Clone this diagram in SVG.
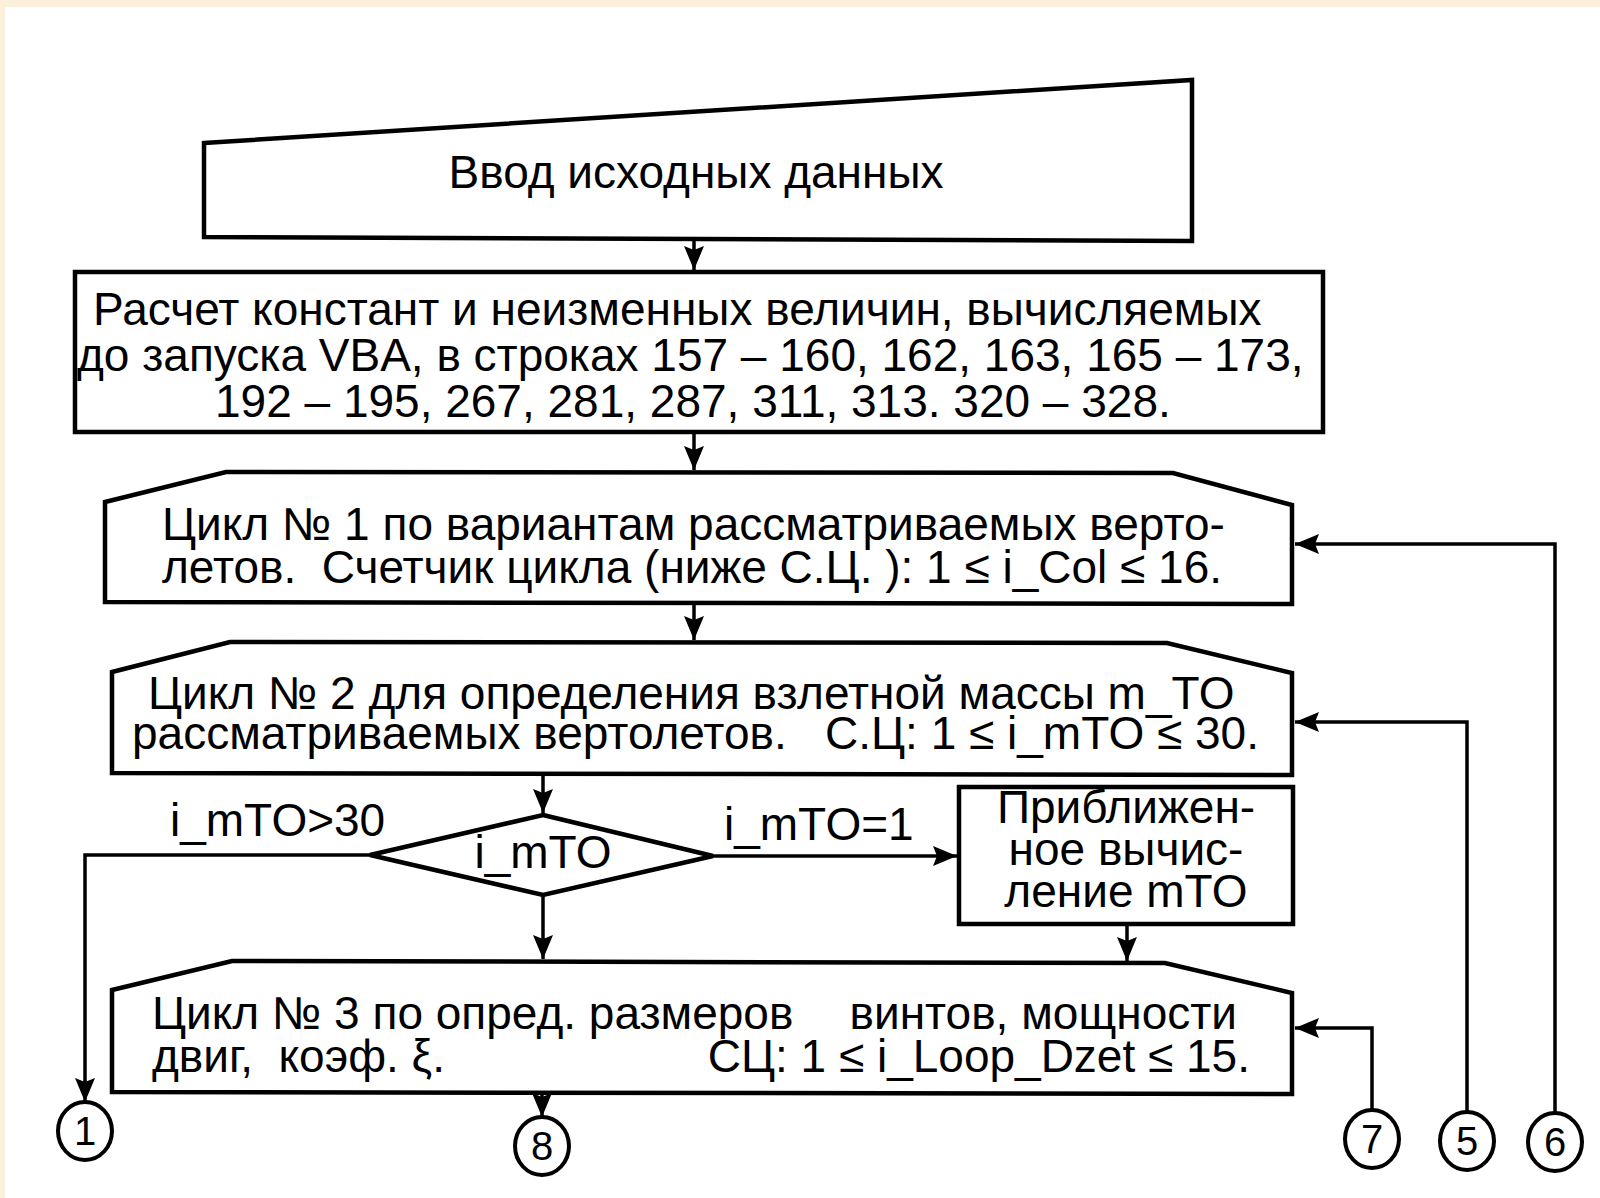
<svg xmlns="http://www.w3.org/2000/svg" width="1600" height="1198" viewBox="0 0 1600 1198">
<style>
.shape{fill:#ffffff;stroke:#000000;stroke-width:4.5;stroke-linejoin:miter}
.t{font-family:"Liberation Sans",Arial,sans-serif;font-size:46px;fill:#000000;white-space:pre}
.c{font-family:"Liberation Sans",Arial,sans-serif;font-size:40px;fill:#000000;text-anchor:middle}
.mid{text-anchor:middle}
.end{text-anchor:end}
.conn{fill:none;stroke:#000000;stroke-width:3.5}
.circ{fill:#ffffff;stroke:#000000;stroke-width:4}
</style>
<defs>
<marker id="arr" markerUnits="userSpaceOnUse" markerWidth="26" markerHeight="22" refX="24" refY="10" orient="auto">
<path d="M0,0 L24,10 L0,20 L4,10 z" fill="#000000"/>
</marker>
</defs>
<rect x="0" y="0" width="1600" height="1198" fill="#ffffff"/>
<rect x="0" y="0" width="1600" height="7" fill="#fcf0da"/>
<rect x="0" y="0" width="5" height="1198" fill="#fcf0da"/>

<g id="connectors">
<path class="conn" d="M694,241 V270" marker-end="url(#arr)"/>
<path class="conn" d="M694,432 V470" marker-end="url(#arr)"/>
<path class="conn" d="M694,604 V640" marker-end="url(#arr)"/>
<path class="conn" d="M543,775 V813" marker-end="url(#arr)"/>
<path class="conn" d="M713,856 H957" marker-end="url(#arr)"/>
<path class="conn" d="M370,855 H85 V1102" marker-end="url(#arr)"/>
<path class="conn" d="M543,895 V959" marker-end="url(#arr)"/>
<path class="conn" d="M1127,924 V961" marker-end="url(#arr)"/>
<path class="conn" d="M542,1093 V1117" marker-end="url(#arr)"/>
<path class="conn" d="M1372,1110 V1028 H1295" marker-end="url(#arr)"/>
<path class="conn" d="M1467,1112 V722 H1295" marker-end="url(#arr)"/>
<path class="conn" d="M1555,1112 V544 H1295" marker-end="url(#arr)"/>
</g>

<g id="input">
<polygon class="shape" points="204,143 1192,80 1192,241 204,237"/>
<text class="t mid" x="696" y="188">Ввод исходных данных</text>
</g>

<g id="constants">
<rect class="shape" x="75" y="272" width="1248" height="160"/>
<text class="t" x="93" y="325">Расчет констант и неизменных величин, вычисляемых</text>
<text class="t" x="77" y="371">до запуска VBA, в строках 157 – 160, 162, 163, 165 – 173,</text>
<text class="t" x="215" y="417">192 – 195, 267, 281, 287, 311, 313. 320 – 328.</text>
</g>

<g id="loop1">
<polygon class="shape" points="105,502 226,472 1173,473 1292,505 1292,604 105,602"/>
<text class="t" x="162" y="540">Цикл № 1 по вариантам рассматриваемых верто-</text>
<text class="t" x="162" y="583">летов.  Счетчик цикла (ниже С.Ц. ): 1 ≤ i_Col ≤ 16.</text>
</g>

<g id="loop2">
<polygon class="shape" points="112,672 230,642 1167,643 1292,673 1292,775 112,773"/>
<text class="t" x="148" y="709">Цикл № 2 для определения взлетной массы m_TO</text>
<text class="t" x="132" y="749">рассматриваемых вертолетов.   С.Ц: 1 ≤ i_mTO ≤ 30.</text>
</g>

<g id="decision">
<polygon class="shape" points="543,815 713,856 543,895 370,855"/>
<text class="t mid" x="543" y="868">i_mTO</text>
</g>

<g id="label-gt30">
<text class="t" x="170" y="836">i_mTO&gt;30</text>
</g>
<g id="label-eq1">
<text class="t" x="724" y="840">i_mTO=1</text>
</g>

<g id="approx">
<rect class="shape" x="959" y="787" width="334" height="137"/>
<text class="t mid" x="1126" y="823">Приближен-</text>
<text class="t mid" x="1126" y="865">ное вычис-</text>
<text class="t mid" x="1126" y="907">ление mTO</text>
</g>

<g id="loop3">
<polygon class="shape" points="112,990 232,961 1165,963 1292,993 1292,1094 112,1092"/>
<text class="t" x="152" y="1029">Цикл № 3 по опред. размеров</text>
<text class="t end" x="1237" y="1029">винтов, мощности</text>
<text class="t" x="152" y="1072">двиг,  коэф. ξ.</text>
<text class="t end" x="1250" y="1072">СЦ: 1 ≤ i_Loop_Dzet ≤ 15.</text>
</g>

<g id="c1"><ellipse class="circ" cx="85" cy="1131" rx="27" ry="29"/><text class="c" x="85" y="1145">1</text></g>
<g id="c8"><ellipse class="circ" cx="542" cy="1146" rx="27" ry="29"/><text class="c" x="542" y="1160">8</text></g>
<g id="c7"><ellipse class="circ" cx="1372" cy="1139" rx="27" ry="29"/><text class="c" x="1372" y="1153">7</text></g>
<g id="c5"><ellipse class="circ" cx="1467" cy="1141" rx="27" ry="29"/><text class="c" x="1467" y="1155">5</text></g>
<g id="c6"><ellipse class="circ" cx="1555" cy="1142" rx="27" ry="29"/><text class="c" x="1555" y="1156">6</text></g>
</svg>
